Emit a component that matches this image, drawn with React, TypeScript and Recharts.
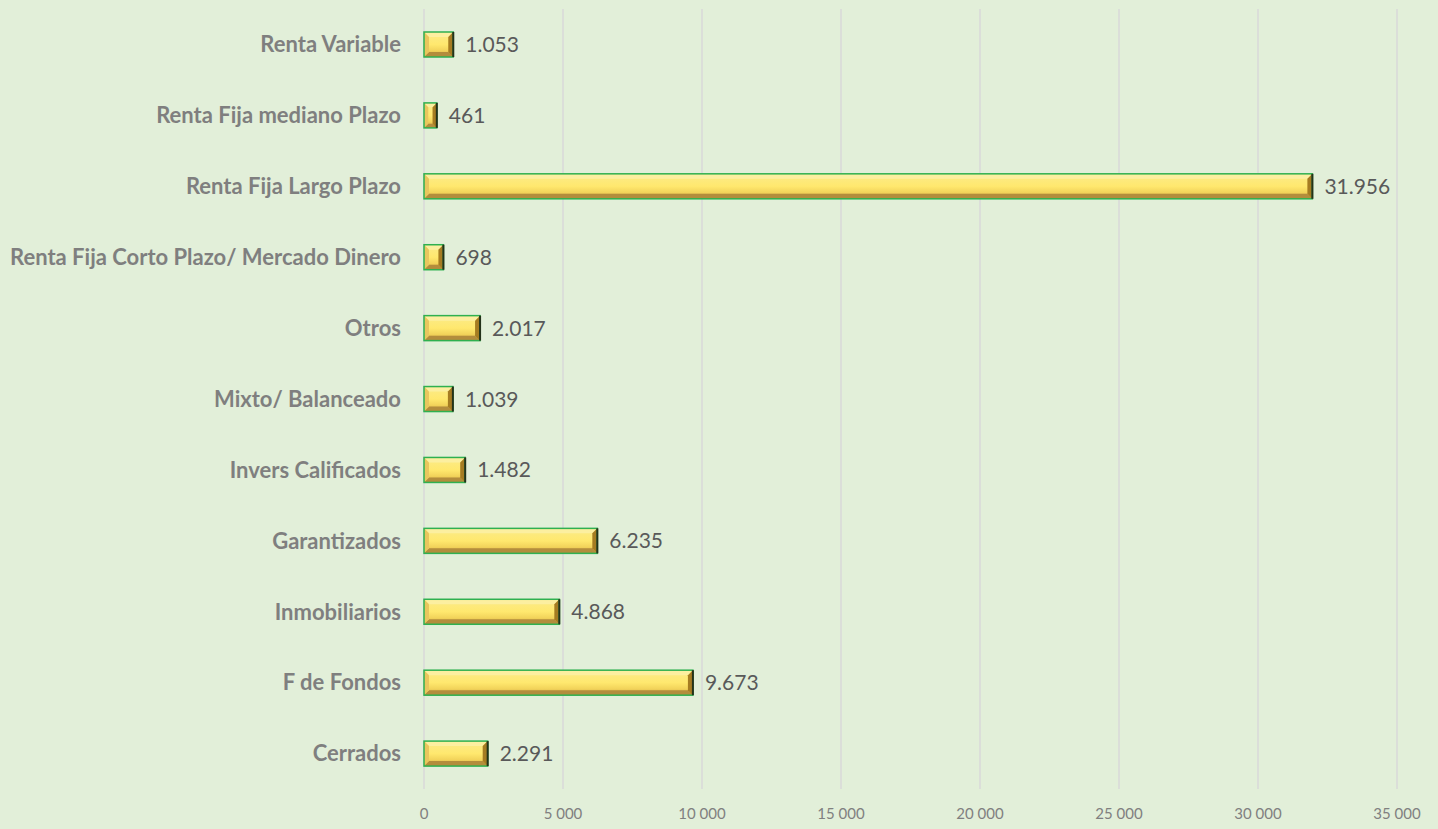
import { BarChart, Bar, XAxis, YAxis, CartesianGrid, LabelList } from 'recharts';

const categories = [
  'Renta Variable',
  'Renta Fija mediano Plazo',
  'Renta Fija Largo Plazo',
  'Renta Fija Corto Plazo/ Mercado Dinero',
  'Otros',
  'Mixto/ Balanceado',
  'Invers Calificados',
  'Garantizados',
  'Inmobiliarios',
  'F de Fondos',
  'Cerrados',
];
const values = [1053, 461, 31956, 698, 2017, 1039, 1482, 6235, 4868, 9673, 2291];
const xTicks = [0, 5000, 10000, 15000, 20000, 25000, 30000, 35000];

const data = categories.map((name, i) => ({ name, value: values[i] }));

const fmtValue = (v: number) => v.toString().replace(/\B(?=(\d{3})+(?!\d))/g, '.');
const fmtTick = (v: number) => v.toString().replace(/\B(?=(\d{3})+(?!\d))/g, ' ');

const BevelBar = (props: any) => {
  const { x, y, width, height } = props;
  if (!width || width <= 0) return null;
  const b = Math.min(5, width / 3);
  return (
    <g>
      <rect x={x} y={y} width={width} height={height} fill="url(#barFill)" />
      {/* top bevel */}
      <polygon points={`${x},${y} ${x + width},${y} ${x + width - b},${y + b} ${x + b},${y + b}`} fill="#FCEFA0" />
      {/* bottom bevel */}
      <polygon points={`${x},${y + height} ${x + width},${y + height} ${x + width - b},${y + height - b} ${x + b},${y + height - b}`} fill="#B38D3C" />
      {/* left bevel */}
      <polygon points={`${x},${y} ${x + b},${y + b} ${x + b},${y + height - b} ${x},${y + height}`} fill="#E9C65E" />
      {/* right bevel */}
      <polygon points={`${x + width},${y} ${x + width - b},${y + b} ${x + width - b},${y + height - b} ${x + width},${y + height}`} fill="#A57C22" />
      <rect x={x} y={y} width={width} height={height} fill="none" stroke="#2FB050" strokeWidth={1.5} />
      <line x1={x + width} y1={y} x2={x + width} y2={y + height} stroke="#24321A" strokeWidth={2} />
    </g>
  );
};

export default function App() {
  return (
    <div style={{ position: 'absolute', left: 0, top: 0, width: 1438, height: 829, background: '#E2EFD9' }}>
      <BarChart
        layout="vertical"
        width={1438}
        height={829}
        data={data}
        margin={{ top: 9, right: 41, bottom: 0, left: 0 }}
        barSize={25}
      >
        <defs>
          <linearGradient id="barFill" x1="0" y1="0" x2="0" y2="1">
            <stop offset="0%" stopColor="#FBEB8A" />
            <stop offset="50%" stopColor="#FFE86E" />
            <stop offset="75%" stopColor="#F2D35A" />
            <stop offset="100%" stopColor="#C9A040" />
          </linearGradient>
        </defs>
        <CartesianGrid horizontal={false} stroke="#D9D9D9" strokeWidth={1.5} />
        <XAxis
          type="number"
          domain={[0, 35000]}
          ticks={xTicks}
          tickFormatter={fmtTick}
          axisLine={false}
          tickLine={false}
          tickMargin={13}
          tick={{ fill: '#808080', fontSize: 15, fontFamily: 'Lato' }}
          height={40}
        />
        <YAxis
          type="category"
          dataKey="name"
          width={424}
          axisLine={false}
          tickLine={false}
          tickSize={0}
          tickMargin={23}
          interval={0}
          tick={{ fill: '#7F7F7F', fontSize: 22, fontWeight: 'bold', fontFamily: 'Lato' }}
        />
        <Bar dataKey="value" shape={BevelBar} isAnimationActive={false}>
          <LabelList
            dataKey="value"
            position="right"
            offset={12}
            formatter={(v: any) => fmtValue(Number(v))}
            style={{ fill: '#595959', fontSize: 21, fontFamily: 'Lato' }}
          />
        </Bar>
      </BarChart>
    </div>
  );
}
